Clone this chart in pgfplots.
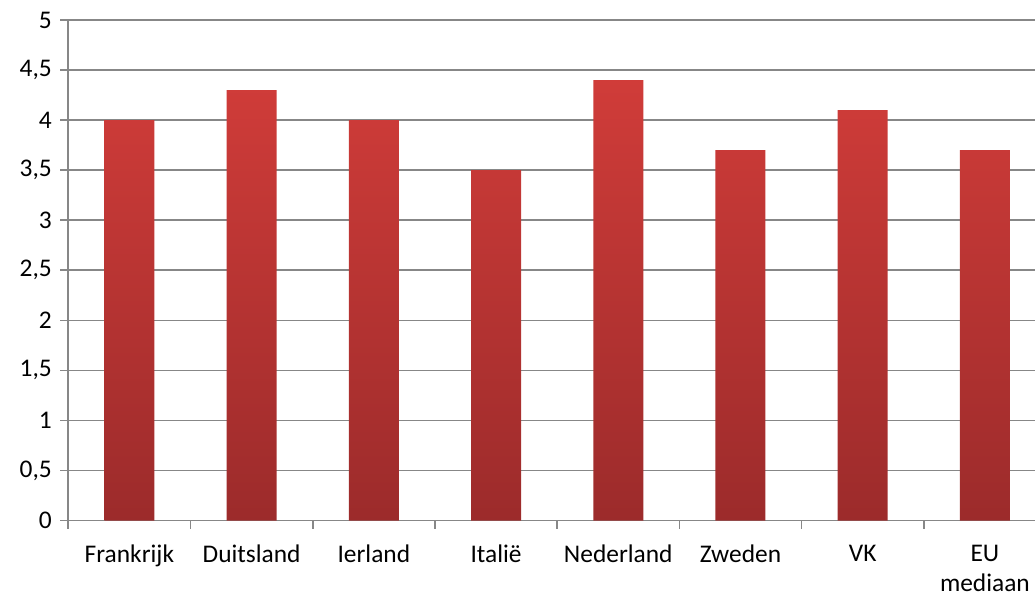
\documentclass[border=0pt]{standalone}
\usepackage{pgfplots}
\pgfplotsset{compat=1.18}
\usepackage{fontspec}
\setmainfont{Carlito}
\definecolor{bartop}{HTML}{D03C39}
\definecolor{barbot}{HTML}{9C2B2B}
\definecolor{gridg}{HTML}{878787}
\begin{document}
\begin{tikzpicture}
\begin{axis}[
  scale only axis,
  width=966.7bp, height=500.5bp,
  xmin=-0.5, xmax=7.41,
  ymin=0, ymax=5,
  ytick={0,0.5,...,5},
  xtick={0,...,7},
  xticklabels={Frankrijk,Duitsland,Ierland,Italië,Nederland,Zweden,VK,{EU\\mediaan}},
  minor xtick={-0.5,0.5,...,6.5},
  tick align=outside,
  major tick length=8bp,
  minor tick length=8bp,
  major x tick style={draw=none},
  minor x tick style={draw=gridg, line width=1.6bp},
  ytick style={draw=gridg, line width=1.6bp},
  axis x line*=bottom, axis y line*=left,
  axis line style={draw=gridg, line width=1.6bp, -},
  ymajorgrids,
  grid style={draw=gridg, line width=1.6bp},
  ticklabel style={font=\fontsize{25.5}{30}\selectfont},
  xticklabel style={align=center, yshift=-13bp},
  yticklabel style={xshift=-5bp},
  /pgf/number format/.cd, use comma, fixed, assume math mode=true,
  /pgfplots/.cd,
  ybar, bar width=50bp, bar shift=0pt,
  clip=false,
]
\addplot[draw=none, top color=bartop, bottom color=barbot] coordinates {
(0,4.0) (1,4.3) (2,4.0) (3,3.5) (4,4.4) (5,3.7) (6,4.1) (7,3.7)};
\coordinate (SW) at (rel axis cs:0,0);
\coordinate (NE) at (rel axis cs:1,1);
\end{axis}
\pgfresetboundingbox
\path ([xshift=-68.3bp,yshift=-77bp]SW) rectangle ([yshift=20bp]NE);
\end{tikzpicture}
\end{document}
